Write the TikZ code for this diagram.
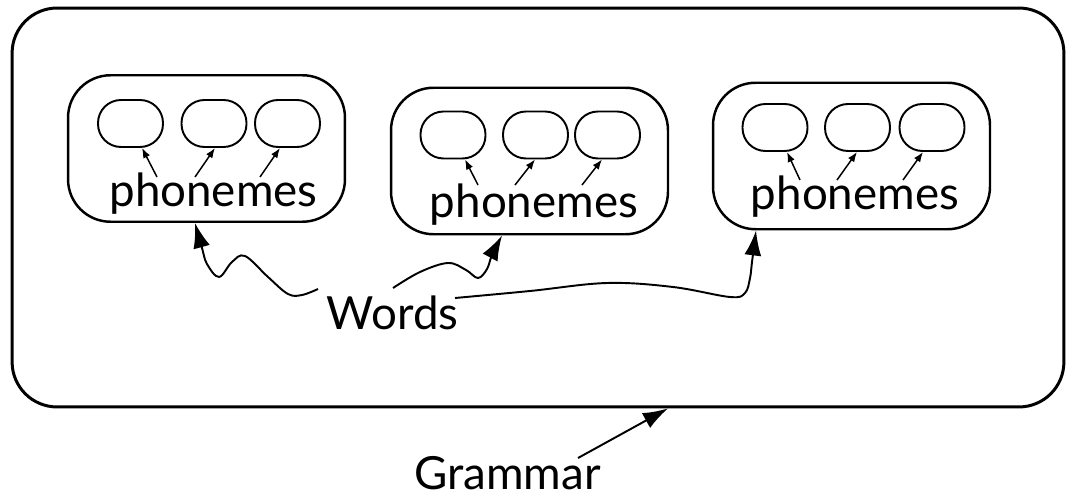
\documentclass[tikz,border=0pt]{standalone}
\usepackage{fontspec}
\setmainfont{Lato}
\usetikzlibrary{arrows.meta}
\begin{document}
\begin{tikzpicture}[x=0.02cm,y=-0.02cm,
  frame/.style={draw, rectangle, rounded corners=0.9cm, line width=1.7pt,
    minimum width=21.04cm, minimum height=7.98cm, inner sep=0pt},
  wordbox/.style={draw, rectangle, rounded corners=0.85cm, line width=1.4pt,
    minimum width=5.54cm, minimum height=2.93cm, inner sep=0pt},
  phone/.style={draw, rectangle, rounded corners=0.46cm, line width=1.1pt,
    minimum width=1.3cm, minimum height=0.94cm, inner sep=0pt},
  lbl/.style={font=\fontsize{26}{30}\selectfont, inner sep=0pt, anchor=base},
  small/.style={-{Latex[length=0.2cm,width=0.15cm]}, line width=0.85pt},
  big/.style={-{Latex[length=0.5cm,width=0.34cm]}, line width=1.1pt},
]
\useasboundingbox (0,0) rectangle (1070,499);

% outer grammar frame
\node[frame] (gbox) at (538,207.5) {};

% the three word boxes
\node[wordbox] (w1) at (206.5,148.5) {};
\node[wordbox] (w2) at (529.5,161) {};
\node[wordbox] (w3) at (851.5,156) {};

% phoneme slots
\node[phone] (w1a) at (130.5,123.5) {};
\node[phone] (w1b) at (214,123.5) {};
\node[phone] (w1c) at (287.5,123.5) {};
\node[phone] (w2a) at (453,135) {};
\node[phone] (w2b) at (535.5,135) {};
\node[phone] (w2c) at (607.5,135) {};
\node[phone] (w3a) at (775,127.5) {};
\node[phone] (w3b) at (857.5,127.5) {};
\node[phone] (w3c) at (932,127.5) {};

% labels
\node[lbl] (p1) at (213.5,207) {phonemes};
\node[lbl] (p2) at (534,218) {phonemes};
\node[lbl] (p3) at (855,210) {phonemes};
\node[lbl] (words) at (392.5,330) {Words};
\node[lbl, anchor=base east] (grammar) at (601,489) {Grammar};

% small arrows from the labels to the slots
\coordinate (p1t1) at (157,177);
\coordinate (p1t2) at (195,177);
\coordinate (p1t3) at (260,177);
\coordinate (p2t1) at (478,185);
\coordinate (p2t2) at (515,185);
\coordinate (p2t3) at (582,185);
\coordinate (p3t1) at (800,180);
\coordinate (p3t2) at (837,180);
\coordinate (p3t3) at (903,180);

\draw[small] (p1t1) -- ([xshift=0.23cm]w1a.south);
\draw[small] (p1t2) -- ([xshift=0.02cm]w1b.south);
\draw[small] (p1t3) -- ([xshift=-0.15cm]w1c.south);
\draw[small] (p2t1) -- ([xshift=0.24cm]w2a.south);
\draw[small] (p2t2) -- ([xshift=-0.01cm]w2b.south);
\draw[small] (p2t3) -- ([xshift=-0.11cm]w2c.south);
\draw[small] (p3t1) -- ([xshift=0.24cm]w3a.south);
\draw[small] (p3t2) -- ([xshift=-0.01cm]w3b.south);
\draw[small] (p3t3) -- ([xshift=-0.18cm]w3c.south);

% wavy arrows from Words to the word boxes
\coordinate (ws1) at (318,289);
\coordinate (ws2) at (393,288);
\coordinate (ws3) at (455,298);
\coordinate (h1) at ([xshift=-0.23cm]w1.south);
\coordinate (h2) at ([xshift=-0.55cm]w2.south);
\coordinate (h3) at ([xshift=-1.91cm]w3.south);

\draw[big] plot[smooth, tension=0.6] coordinates
  {(ws1) (302,295) (288,294) (268,277) (245,256) (232,262) (219,277)
   (207,264) (202,248) (h1)};
\draw[big] plot[smooth, tension=0.6] coordinates
  {(ws2) (420,272) (448,263) (466,270) (478,278) (487,269) (492,255) (h2)};
\draw[big] plot[smooth, tension=0.6] coordinates
  {(ws3) (530,291) (607,283) (673,287) (730,297) (745,293) (750,278)
   (752,262) (h3)};

% Grammar pointer
\coordinate (gt) at (578,458);
\draw[big] (gt) -- ([xshift=2.6cm]gbox.south);
\end{tikzpicture}
\end{document}
